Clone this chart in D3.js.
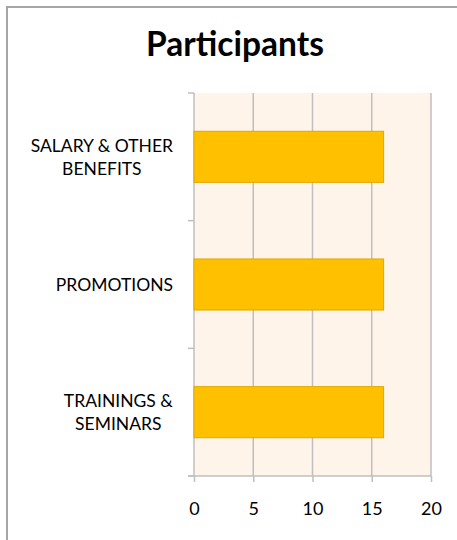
<!DOCTYPE html>
<html>
<head>
<meta charset="utf-8">
<script src="https://cdn.jsdelivr.net/npm/d3@7"></script>
<style>
  body { margin: 0; background: #fff; }
  svg { display: block; font-family: Lato, "Open Sans", sans-serif; }
</style>
</head>
<body>
<div id="chart"></div>
<script>
'use strict';

const categories = ['SALARY & OTHER BENEFITS', 'PROMOTIONS', 'TRAININGS & SEMINARS'];
const labelLines = [['SALARY & OTHER', 'BENEFITS'], ['PROMOTIONS'], ['TRAININGS &', 'SEMINARS']];
const participants = [16, 16, 16];
const xTicks = [0, 5, 10, 15, 20];
const chartTitle = 'Participants';

const width = 457;
const height = 540;
const margin = { top: 93, left: 194, right: 26, bottom: 64 };
const plotW = width - margin.left - margin.right;
const plotH = height - margin.top - margin.bottom;

const svg = d3.select('#chart').append('svg')
  .attr('width', width)
  .attr('height', height);

// outer frame (only left and top edges visible)
svg.append('path')
  .attr('d', `M7,${height} V7 H${width}`)
  .attr('fill', 'none')
  .attr('stroke', '#a6a6a6')
  .attr('stroke-width', 2);

svg.append('text')
  .attr('x', 235)
  .attr('y', 56)
  .attr('text-anchor', 'middle')
  .attr('font-size', 33.5)
  .attr('font-weight', 'bold')
  .attr('fill', '#000')
  .text(chartTitle);

const xScale = d3.scaleLinear()
  .domain([0, 20])
  .range([0, plotW]);

const yScale = d3.scaleBand()
  .domain(categories)
  .range([0, plotH])
  .paddingInner(0.6)
  .paddingOuter(0.3);

const chart = svg.append('g')
  .attr('transform', `translate(${margin.left}, ${margin.top})`);

chart.append('rect')
  .attr('width', plotW)
  .attr('height', plotH)
  .attr('fill', '#fef4e9');

// vertical gridlines
chart.selectAll('.grid')
  .data(xTicks.slice(1))
  .enter().append('line')
  .attr('class', 'grid')
  .attr('x1', d => xScale(d))
  .attr('x2', d => xScale(d))
  .attr('y1', 0)
  .attr('y2', plotH)
  .attr('stroke', '#bfbfbf')
  .attr('stroke-width', 1.5);

// category axis with ticks at band boundaries
const bandStep = plotH / categories.length;
const yTickPos = d3.range(categories.length + 1).map(i => i * bandStep);
chart.selectAll('.ytick')
  .data(yTickPos)
  .enter().append('line')
  .attr('x1', -6)
  .attr('x2', 0)
  .attr('y1', d => d)
  .attr('y2', d => d)
  .attr('stroke', '#bfbfbf')
  .attr('stroke-width', 1.5);

chart.append('line')
  .attr('x1', 0).attr('x2', 0)
  .attr('y1', 0).attr('y2', plotH)
  .attr('stroke', '#bfbfbf')
  .attr('stroke-width', 1.5);

// bars
chart.selectAll('.bar')
  .data(categories)
  .enter().append('rect')
  .attr('class', 'bar')
  .attr('x', 0)
  .attr('y', d => yScale(d))
  .attr('width', (d, i) => xScale(participants[i]))
  .attr('height', yScale.bandwidth())
  .attr('fill', '#ffc000')
  .attr('stroke', '#e0a900')
  .attr('stroke-width', 1);

// x axis
const xAxis = d3.axisBottom(xScale)
  .tickValues(xTicks)
  .tickSize(6)
  .tickPadding(20);

const xg = chart.append('g')
  .attr('transform', `translate(0, ${plotH})`)
  .call(xAxis);
xg.select('.domain').attr('stroke', '#bfbfbf').attr('stroke-width', 1.5)
  .attr('d', `M-6,0H${plotW}`);
xg.selectAll('.tick line').attr('stroke', '#bfbfbf').attr('stroke-width', 1.5);
xg.selectAll('.tick text')
  .attr('font-family', 'Lato, "Open Sans", sans-serif')
  .attr('font-size', 18)
  .attr('fill', '#000');

// category labels
const labels = chart.selectAll('.ylabel')
  .data(categories)
  .enter().append('text')
  .attr('class', 'ylabel')
  .attr('font-size', 17.5)
  .attr('fill', '#000')
  .attr('text-anchor', 'middle');

labels.each(function (d, i) {
  const lines = labelLines[i];
  const cy = yScale(d) + yScale.bandwidth() / 2;
  const lineH = 23.5;
  const t = d3.select(this);
  const first = cy - (lines.length - 1) * lineH / 2 + 6.5;
  lines.forEach((ln, j) => {
    t.append('tspan')
      .attr('x', 0)
      .attr('y', first + j * lineH)
      .text(ln);
  });
  // right-align the block at x = -21
  const w = this.getBBox().width;
  t.selectAll('tspan').attr('x', -21 - w / 2);
});
</script>
</body>
</html>
